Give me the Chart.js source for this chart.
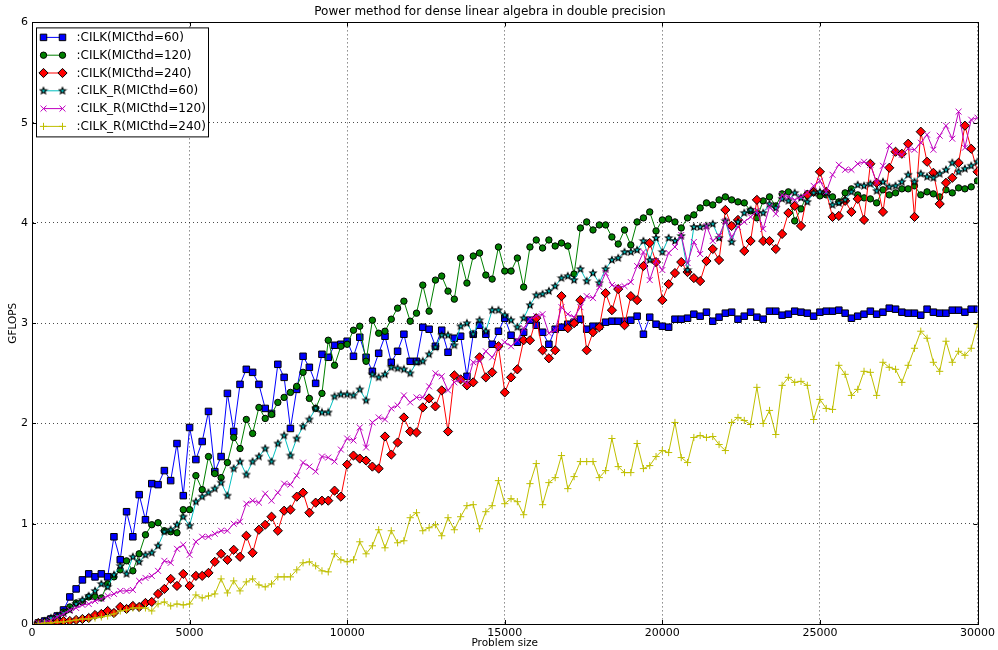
<!DOCTYPE html>
<html>
<head>
<meta charset="utf-8">
<title>Power method GFLOPS</title>
<script src="https://cdn.jsdelivr.net/npm/chart.js@4.4.1/dist/chart.umd.min.js"></script>
<style>
  html, body { margin: 0; padding: 0; background: #fff; }
  #wrap { width: 998px; height: 650px; }
</style>
</head>
<body>
<div id="wrap"><canvas id="powerChart" width="998" height="650"></canvas></div>
<script>
// problem sizes: sweep 200 .. 30000 in steps of 200
var SIZE_STEP = 200;
var SIZE_COUNT = 150;
var sizes = [];
for (var k = 1; k <= SIZE_COUNT; k++) sizes.push(k * SIZE_STEP);

var xTicks = [0, 5000, 10000, 15000, 20000, 25000, 30000];
var yTicks = [0, 1, 2, 3, 4, 5, 6];

// GFLOPS per problem size
var cilk60 = [
  0.01,0.03,0.05,0.08,0.14,0.27,0.35,0.44,0.50,0.47,
  0.50,0.47,0.87,0.64,1.12,0.87,1.29,1.04,1.40,1.39,
  1.53,1.43,1.80,1.28,1.96,1.64,1.82,2.12,1.52,1.67,
  2.30,1.92,2.39,2.54,2.51,2.39,2.15,2.10,2.59,2.46,
  1.95,2.34,2.67,2.56,2.40,2.69,2.66,2.78,2.79,2.82,
  2.67,2.86,2.66,2.52,2.70,2.87,2.61,2.72,2.89,2.62,
  2.62,2.96,2.94,2.77,2.93,2.71,2.85,2.87,2.47,2.89,
  2.98,2.89,2.79,2.92,3.05,2.88,2.81,2.91,3.03,2.98,
  2.91,2.79,2.94,2.96,2.99,3.01,3.04,2.94,2.97,2.97,
  3.01,3.02,3.02,3.02,3.03,3.07,2.89,3.06,2.99,2.97,
  2.96,3.04,3.04,3.05,3.09,3.07,3.11,3.02,3.06,3.10,
  3.11,3.04,3.07,3.11,3.06,3.04,3.12,3.12,3.08,3.09,
  3.12,3.11,3.10,3.07,3.11,3.12,3.12,3.13,3.10,3.05,
  3.07,3.09,3.12,3.09,3.11,3.15,3.14,3.11,3.10,3.10,
  3.08,3.14,3.11,3.10,3.10,3.13,3.13,3.11,3.14,3.14
];
var cilk120 = [
  0.01,0.02,0.04,0.07,0.12,0.17,0.21,0.22,0.27,0.27,
  0.26,0.40,0.47,0.54,0.63,0.53,0.70,0.89,0.99,1.01,
  0.93,0.92,0.91,1.14,1.14,1.48,1.34,1.67,1.50,1.46,
  1.61,1.86,1.75,2.04,1.90,2.16,2.05,2.09,2.21,2.26,
  2.31,2.37,2.51,2.25,2.15,2.30,2.83,2.58,2.77,2.79,
  2.93,2.97,2.62,3.03,2.90,2.92,3.04,3.15,3.22,3.02,
  3.10,3.38,3.12,3.43,3.47,3.32,3.24,3.65,3.40,3.67,
  3.70,3.48,3.44,3.76,3.52,3.52,3.65,3.36,3.76,3.83,
  3.75,3.83,3.77,3.80,3.77,3.49,3.95,4.01,3.93,3.98,
  3.98,3.86,3.79,3.93,3.78,4.01,4.05,4.11,3.92,4.03,
  4.04,4.01,3.95,4.05,4.08,4.15,4.20,4.18,4.23,4.26,
  4.23,4.21,4.20,4.12,4.05,4.22,4.26,4.17,4.29,4.31,
  4.02,4.14,4.29,4.31,4.27,4.28,4.26,4.21,4.30,4.34,
  4.28,4.25,4.24,4.20,4.33,4.28,4.30,4.34,4.34,4.37,
  4.28,4.31,4.29,4.26,4.33,4.30,4.35,4.34,4.36,4.42
];
var cilk240 = [
  0.01,0.01,0.02,0.02,0.03,0.03,0.04,0.05,0.06,0.09,
  0.10,0.13,0.11,0.17,0.15,0.18,0.17,0.21,0.22,0.30,
  0.35,0.45,0.38,0.50,0.38,0.48,0.48,0.51,0.62,0.70,
  0.64,0.74,0.67,0.88,0.71,0.94,0.99,1.07,0.93,1.13,
  1.14,1.27,1.31,1.11,1.21,1.23,1.23,1.33,1.27,1.59,
  1.68,1.65,1.63,1.57,1.55,1.87,1.69,1.81,2.06,1.92,
  1.91,2.16,2.25,2.17,2.33,1.92,2.48,2.44,2.38,2.41,
  2.66,2.46,2.51,2.77,2.31,2.46,2.54,2.83,2.83,3.05,
  2.73,2.65,2.73,3.27,2.95,3.00,3.23,2.73,2.91,2.96,
  3.30,3.13,3.34,2.98,3.27,3.23,3.57,3.80,3.61,3.23,
  3.39,3.50,3.61,3.51,3.45,3.42,3.62,3.74,3.63,4.13,
  3.97,4.03,3.72,3.82,4.23,3.82,3.82,3.74,3.89,4.10,
  4.17,3.97,4.28,4.31,4.51,4.31,4.06,4.07,4.22,4.11,
  4.24,4.03,4.59,4.40,4.11,4.55,4.71,4.69,4.79,4.06,
  4.91,4.61,4.50,4.19,4.40,4.45,4.60,4.97,4.74,4.51
];
var cilkR60 = [
  0.01,0.03,0.06,0.08,0.11,0.14,0.20,0.24,0.28,0.33,
  0.40,0.37,0.49,0.58,0.50,0.67,0.62,0.69,0.71,0.78,
  0.92,0.94,0.99,1.07,0.98,1.22,1.27,1.31,1.35,1.41,
  1.28,1.55,1.62,1.49,1.62,1.67,1.75,1.62,1.80,1.88,
  1.68,1.85,1.97,2.04,2.15,2.11,2.11,2.27,2.29,2.29,
  2.28,2.34,2.23,2.49,2.46,2.49,2.56,2.55,2.54,2.50,
  2.61,2.62,2.69,2.76,2.88,2.88,2.78,2.97,3.00,2.89,
  3.03,2.92,3.13,3.13,3.08,3.03,2.96,3.05,3.18,3.28,
  3.29,3.32,3.37,3.45,3.47,3.43,3.54,3.42,3.50,3.40,
  3.54,3.63,3.65,3.71,3.71,3.73,3.82,3.63,3.85,3.71,
  3.85,3.82,3.87,3.53,3.96,3.96,3.97,3.99,3.85,4.02,
  3.81,4.01,4.10,4.13,4.10,4.10,4.19,4.15,4.24,4.22,
  4.30,4.25,4.21,4.30,4.31,4.30,4.18,4.20,4.23,4.31,
  4.38,4.37,4.39,4.32,4.41,4.36,4.37,4.41,4.48,4.41,
  4.49,4.46,4.45,4.49,4.53,4.60,4.51,4.54,4.57,4.61
];
var cilkR120 = [
  0.01,0.02,0.04,0.07,0.10,0.14,0.16,0.19,0.20,0.23,
  0.25,0.28,0.30,0.33,0.33,0.34,0.43,0.46,0.48,0.53,
  0.63,0.61,0.75,0.79,0.69,0.82,0.87,0.87,0.90,0.93,
  0.93,1.00,1.02,1.20,1.23,1.21,1.30,1.23,1.31,1.40,
  1.39,1.48,1.61,1.57,1.52,1.67,1.66,1.62,1.74,1.85,
  1.83,1.96,1.76,2.01,2.06,2.04,2.15,2.18,2.28,2.21,
  2.26,2.26,2.37,2.50,2.47,2.33,2.41,2.44,2.40,2.61,
  2.62,2.72,2.66,2.76,2.81,2.77,2.83,2.95,3.04,3.07,
  3.09,2.90,2.93,3.16,3.09,3.06,3.16,3.27,3.25,3.36,
  3.50,3.38,3.36,3.37,3.41,3.57,3.71,3.43,3.62,3.53,
  3.70,3.76,3.88,3.60,3.81,3.69,3.97,3.82,3.87,4.02,
  3.86,3.96,4.01,4.06,4.12,3.94,4.16,4.09,4.28,4.26,
  4.23,4.26,4.30,4.37,4.42,4.31,4.48,4.58,4.53,4.53,
  4.59,4.61,4.58,4.40,4.57,4.77,4.70,4.68,4.74,4.73,
  4.80,4.88,4.73,4.87,4.97,4.84,5.11,4.75,5.03,5.05
];
var cilkR240 = [
  0.00,0.01,0.01,0.02,0.02,0.03,0.04,0.05,0.05,0.06,
  0.07,0.08,0.10,0.13,0.14,0.16,0.16,0.16,0.13,0.20,
  0.22,0.18,0.20,0.19,0.20,0.29,0.26,0.28,0.30,0.45,
  0.31,0.43,0.33,0.42,0.45,0.39,0.37,0.40,0.47,0.47,
  0.47,0.54,0.61,0.62,0.58,0.53,0.52,0.70,0.64,0.62,
  0.64,0.82,0.70,0.78,0.94,0.76,0.93,0.81,0.83,1.06,
  1.11,0.93,0.96,0.99,0.88,1.06,0.94,1.07,1.18,1.19,
  0.95,1.12,1.18,1.43,1.20,1.25,1.22,1.09,1.40,1.60,
  1.19,1.41,1.46,1.68,1.35,1.47,1.62,1.62,1.62,1.46,
  1.53,1.85,1.57,1.51,1.51,1.80,1.55,1.58,1.67,1.73,
  1.71,2.01,1.66,1.61,1.86,1.88,1.86,1.87,1.79,1.73,
  2.01,2.06,2.03,1.99,2.36,2.00,2.13,1.89,2.38,2.46,
  2.41,2.42,2.38,2.04,2.24,2.15,2.14,2.58,2.49,2.28,
  2.34,2.52,2.51,2.28,2.61,2.56,2.54,2.41,2.58,2.75,
  2.92,2.85,2.61,2.52,2.82,2.61,2.72,2.68,2.75,2.99
];

(function () {
  'use strict';

  var FONT = "'DejaVu Sans', 'Liberation Sans', sans-serif";

  // small filled five-point star with a dark edge, CILK_R(60) marker
  function makeStar(r, fill) {
    var s = Math.ceil(r * 2 + 3);
    var c = document.createElement('canvas');
    c.width = s; c.height = s;
    var g = c.getContext('2d');
    var cx = s / 2, cy = s / 2;
    g.beginPath();
    for (var i = 0; i < 10; i++) {
      var rr = i % 2 === 0 ? r : r * 0.45;
      var a = -Math.PI / 2 + i * Math.PI / 5;
      g.lineTo(cx + rr * Math.cos(a), cy + rr * Math.sin(a));
    }
    g.closePath();
    g.fillStyle = fill;
    g.fill();
    g.lineWidth = 1.1;
    g.strokeStyle = '#000';
    g.stroke();
    return c;
  }

  var starMarker = makeStar(3.4, '#00bfbf');

  function toPoints(vals) {
    return sizes.map(function (x, i) { return { x: x, y: vals[i] }; });
  }

  var series = [
    { label: ':CILK(MICthd=60)',    data: cilk60,   line: '#0000ff', fill: '#0000ff', style: 'rect',     r: 4.6, edge: '#000' },
    { label: ':CILK(MICthd=120)',   data: cilk120,  line: '#008000', fill: '#008000', style: 'circle',   r: 3.2, edge: '#000' },
    { label: ':CILK(MICthd=240)',   data: cilk240,  line: '#ff0000', fill: '#ff0000', style: 'rectRot',  r: 4.6, edge: '#000' },
    { label: ':CILK_R(MICthd=60)',  data: cilkR60,  line: '#00bfbf', fill: '#00bfbf', style: starMarker, r: 3.4, edge: '#000' },
    { label: ':CILK_R(MICthd=120)', data: cilkR120, line: '#bf00bf', fill: '#bf00bf', style: 'crossRot', r: 4.2, edge: '#bf00bf' },
    { label: ':CILK_R(MICthd=240)', data: cilkR240, line: '#bfbf00', fill: '#bfbf00', style: 'cross',    r: 3.6, edge: '#bfbf00' }
  ];

  var datasets = series.map(function (s, i) {
    return {
      label: s.label,
      data: toPoints(s.data),
      borderColor: s.line,
      borderWidth: 1,
      backgroundColor: s.fill,
      pointStyle: s.style,
      pointRadius: s.r,
      pointBackgroundColor: s.fill,
      pointBorderColor: s.edge,
      pointBorderWidth: 1,
      tension: 0,
      fill: false,
      order: series.length - i   // later series painted on top
    };
  });

  // legend box in the upper-left corner of the plot
  var boxLegend = {
    id: 'boxLegend',
    afterDatasetsDraw: function (chart) {
      var ctx = chart.ctx;
      var area = chart.chartArea;
      var x0 = area.left + 4.5, y0 = area.top + 5.5;
      var w = 172, h = 109;
      ctx.save();
      ctx.fillStyle = '#fff';
      ctx.fillRect(x0, y0, w, h);
      ctx.strokeStyle = '#000';
      ctx.lineWidth = 1;
      ctx.strokeRect(x0, y0, w, h);
      ctx.font = '12px ' + FONT;
      ctx.textBaseline = 'middle';
      series.forEach(function (s, i) {
        var y = y0 + 9.5 + i * 17.8;
        var xa = x0 + 7, xb = x0 + 26;
        ctx.strokeStyle = s.line;
        ctx.lineWidth = 1;
        ctx.beginPath();
        ctx.moveTo(xa, y);
        ctx.lineTo(xb, y);
        ctx.stroke();
        [xa, xb].forEach(function (px) {
          ctx.fillStyle = s.fill;
          ctx.strokeStyle = s.edge;
          ctx.lineWidth = 1;
          Chart.helpers.drawPoint(ctx, { pointStyle: s.style, radius: s.r, rotation: 0, borderWidth: 1 }, px, y);
        });
        ctx.fillStyle = '#000';
        ctx.fillText(s.label, x0 + 40, y + 0.5);
      });
      ctx.restore();
    }
  };

  // axes frame with inward tick marks
  var frame = {
    id: 'frame',
    afterDraw: function (chart) {
      var ctx = chart.ctx;
      var a = chart.chartArea;
      var xs = chart.scales.x, ys = chart.scales.y;
      ctx.save();
      ctx.strokeStyle = '#000';
      ctx.lineWidth = 1;
      ctx.strokeRect(Math.round(a.left) + 0.5, Math.round(a.top) + 0.5,
        Math.round(a.right - a.left), Math.round(a.bottom - a.top));
      ctx.beginPath();
      xTicks.forEach(function (v) {
        var px = Math.round(xs.getPixelForValue(v)) + 0.5;
        ctx.moveTo(px, a.bottom); ctx.lineTo(px, a.bottom - 4);
        ctx.moveTo(px, a.top); ctx.lineTo(px, a.top + 4);
      });
      yTicks.forEach(function (v) {
        var py = Math.round(ys.getPixelForValue(v)) + 0.5;
        ctx.moveTo(a.left, py); ctx.lineTo(a.left + 4, py);
        ctx.moveTo(a.right, py); ctx.lineTo(a.right - 4, py);
      });
      ctx.stroke();
      ctx.restore();
    }
  };

  var gridLine = { color: 'rgba(0,0,0,0.7)', lineWidth: 1, drawTicks: false };
  var gridBorder = { display: true, color: '#000', dash: [1, 3] };

  new Chart(document.getElementById('powerChart'), {
    type: 'line',
    data: { datasets: datasets },
    options: {
      responsive: false,
      animation: false,
      devicePixelRatio: 1,
      layout: { padding: { left: 0, right: 18, top: 0, bottom: 0 } },
      plugins: {
        legend: { display: false },
        tooltip: { enabled: false },
        title: {
          display: true,
          text: 'Power method for dense linear algebra in double precision',
          color: '#000',
          font: { family: FONT, size: 12, weight: 'normal' },
          padding: { top: 5, bottom: 3 }
        }
      },
      scales: {
        x: {
          type: 'linear',
          min: 0,
          max: 30000,
          afterFit: function (s) { s.height = 26; },
          afterBuildTicks: function (s) { s.ticks = xTicks.map(function (v) { return { value: v }; }); },
          ticks: {
            color: '#000',
            font: { family: FONT, size: 11 },
            padding: 3,
            maxRotation: 0,
            autoSkip: false,
            callback: function (v) { return String(v); }
          },
          grid: gridLine,
          border: gridBorder,
          title: {
            display: true,
            text: 'Problem size',
            color: '#000',
            font: { family: FONT, size: 10.5 },
            padding: { top: 0, bottom: 0 }
          }
        },
        y: {
          min: 0,
          max: 6,
          afterFit: function (s) { s.width = 32; },
          afterBuildTicks: function (s) { s.ticks = yTicks.map(function (v) { return { value: v }; }); },
          ticks: {
            color: '#000',
            font: { family: FONT, size: 11 },
            padding: 4,
            autoSkip: false,
            callback: function (v) { return String(v); }
          },
          grid: gridLine,
          border: gridBorder,
          title: {
            display: true,
            text: 'GFLOPS',
            color: '#000',
            font: { family: FONT, size: 10.5 },
            padding: { top: 7, bottom: 0 }
          }
        }
      }
    },
    plugins: [boxLegend, frame]
  });
})();
</script>
</body>
</html>
